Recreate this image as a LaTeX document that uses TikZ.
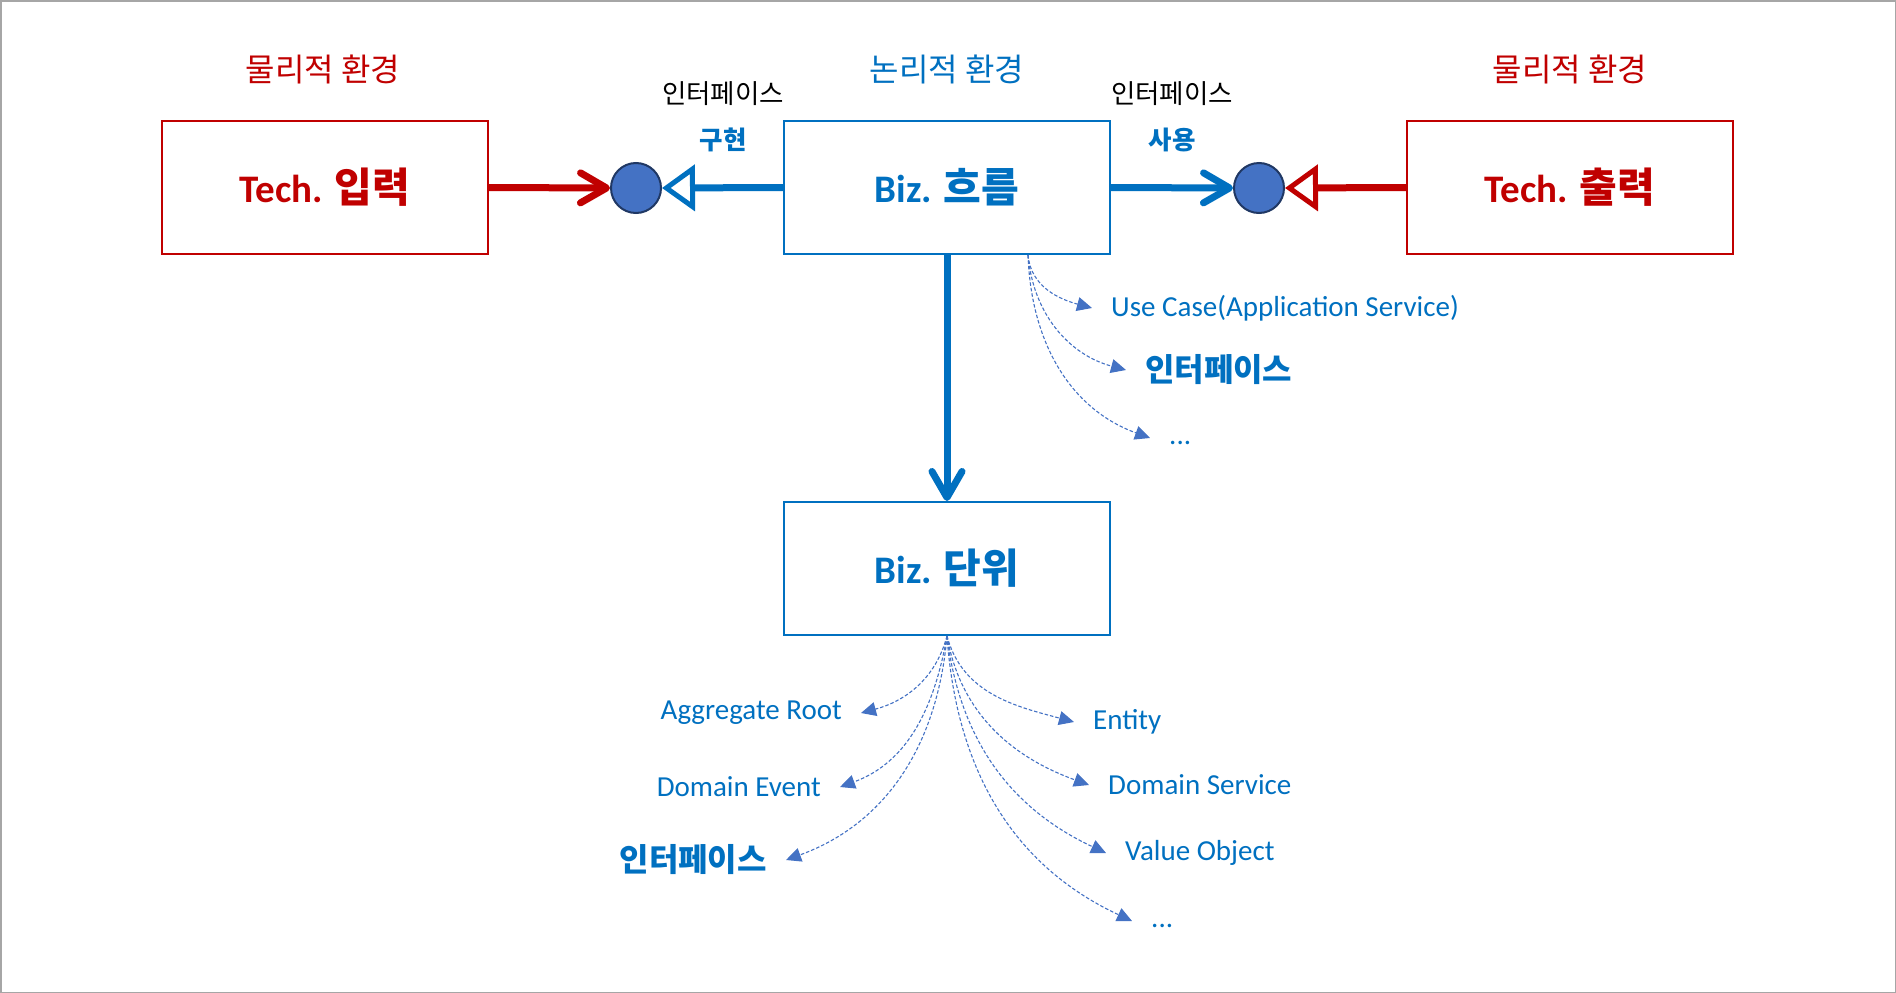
\documentclass[tikz,border=0pt]{standalone}
\usepackage{fontspec}
\setmainfont{Carlito}
\newfontfamily\kr{Noto Sans CJK KR}
\usetikzlibrary{arrows.meta}
\definecolor{bblue}{HTML}{0070C0}
\definecolor{rred}{HTML}{C00000}
\definecolor{cfill}{HTML}{4472C4}
\definecolor{cline}{HTML}{203864}
\definecolor{framegray}{HTML}{A6A6A6}
\newcommand{\boxkr}[1]{{\kr\fontsize{41}{44}\selectfont #1}}
\begin{document}
\begin{tikzpicture}[x=1pt,y=-1pt,
  box/.style={draw,line width=2pt,minimum width=326pt,minimum height=133pt,inner sep=0pt,
    font=\fontsize{39}{44}\selectfont\bfseries},
  envlabel/.style={font=\kr\fontsize{32}{36}\selectfont,inner sep=0pt},
  iflabel/.style={font=\kr\fontsize{26.5}{30}\selectfont,inner sep=0pt,text=black},
  verb/.style={font=\kr\bfseries\fontsize{25.5}{28}\selectfont,inner sep=0pt,text=bblue},
  item/.style={font=\fontsize{29}{32}\selectfont,text=bblue,inner xsep=19pt,inner ysep=0pt},
  kitem/.style={font=\kr\bfseries\fontsize{32}{36}\selectfont,text=bblue,inner xsep=19pt,inner ysep=0pt},
  iface/.style={circle,fill=cfill,draw=cline,line width=2pt,minimum size=50pt,inner sep=0pt},
  chev/.style={line width=7pt,-{Straight Barb[length=26pt,width=30pt,round]}},
  htri/.style={line width=7pt,-{Triangle[length=33pt,width=46pt,fill=white,line width=5pt]}},
  dsh/.style={draw=cfill,line width=1.1pt,dash pattern=on 3.5pt off 2pt,-{Triangle[length=15pt,width=14pt]}}
]
\useasboundingbox (0,0) rectangle (1896,993);
\draw[framegray,line width=1.5pt] (0.75,0.75) rectangle (1895.25,992.25);

% environment labels
\node[envlabel,text=rred] (phys1) at (323,69) {물리적 환경};
\node[envlabel,text=bblue] (logic) at (947,69) {논리적 환경};
\node[envlabel,text=rred] (phys2) at (1570,69) {물리적 환경};
\node[iflabel] (if1) at (723,94) {인터페이스};
\node[verb] (impl) at (723,140) {구현};
\node[iflabel] (if2) at (1172,94) {인터페이스};
\node[verb] (use) at (1172,140) {사용};

% boxes
\node[box,draw=rred,text=rred] (ti) at (325,187.5) {Tech. \boxkr{입력}};
\node[box,draw=bblue,text=bblue] (bf) at (947,187.5) {Biz. \boxkr{흐름}};
\node[box,draw=rred,text=rred] (to) at (1570,187.5) {Tech. \boxkr{출력}};
\node[box,draw=bblue,text=bblue] (bu) at (947,568.5) {Biz. \boxkr{단위}};

% interface circles
\node[iface] (lc) at (636,188) {};
\node[iface] (rc) at (1259,188) {};

% connectors
\draw[chev,rred] (ti.east) -- (lc.west);
\draw[htri,bblue] (bf.west) -- (lc.east);
\draw[chev,bblue] (bf.east) -- (rc.west);
\draw[htri,rred] (to.west) -- (rc.east);
\draw[chev,bblue] (bf.south) -- (bu.north);

% upper fan
\coordinate (uf) at ([xshift=81pt]bf.south);
\node[item,anchor=west] (uc) at (1092,308) {Use Case(Application Service)};
\node[kitem,anchor=west] (uif) at (1126,370) {인터페이스};
\node[item,anchor=west] (udots) at (1150,443) {...};
\draw[dsh] (uf) to[out=-85,in=165] (uc.west);
\draw[dsh] (uf) to[out=-85,in=165] (uif.west);
\draw[dsh] (uf) to[out=-88,in=160] ([yshift=5pt]udots.west);

% lower fan
\node[item,anchor=east] (agg) at (861,713) {Aggregate Root};
\node[item,anchor=east] (de) at (840,787) {Domain Event};
\node[kitem,anchor=east] (lif) at (786,860) {인터페이스};
\node[item,anchor=west] (ent) at (1074,722) {Entity};
\node[item,anchor=west] (ds) at (1089,785) {Domain Service};
\node[item,anchor=west] (vo) at (1106,853) {Value Object};
\node[item,anchor=west] (ldots) at (1132,926) {...};
\draw[dsh] (bu.south) to[out=-105,in=15] (agg.east);
\draw[dsh] (bu.south) to[out=-100,in=20] (de.east);
\draw[dsh] (bu.south) to[out=-95,in=20] (lif.east);
\draw[dsh] (bu.south) to[out=-75,in=165] (ent.west);
\draw[dsh] (bu.south) to[out=-80,in=160] (ds.west);
\draw[dsh] (bu.south) to[out=-83,in=155] (vo.west);
\draw[dsh] (bu.south) to[out=-86,in=155] ([yshift=5pt]ldots.west);
\end{tikzpicture}
\end{document}
